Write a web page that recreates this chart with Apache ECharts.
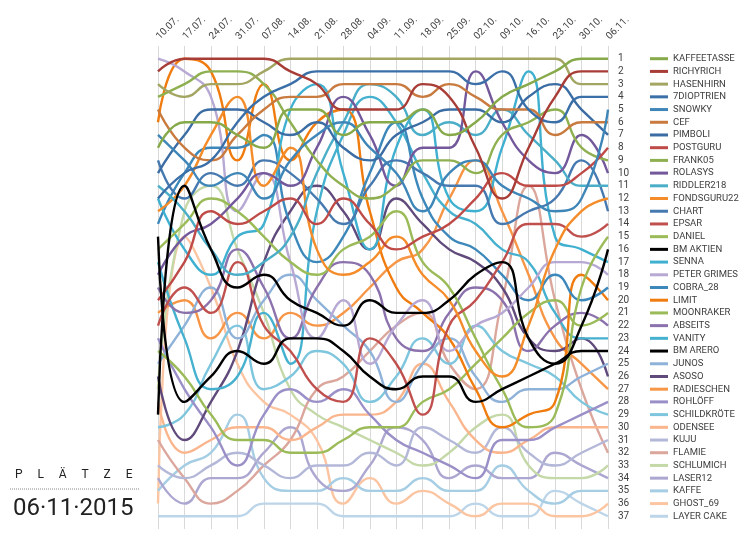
<!DOCTYPE html>
<html><head><meta charset="utf-8">
<script src="https://cdn.jsdelivr.net/npm/echarts@6/dist/echarts.min.js"></script>
<style>html,body{margin:0;padding:0;background:#fff}#c{width:750px;height:538px}</style>
</head><body><div id="c"></div>
<script>
const dates = ['10.07.','17.07.','24.07.','31.07.','07.08.','14.08.','21.08.','28.08.','04.09.','11.09.','18.09.','25.09.','02.10.','09.10.','16.10.','23.10.','30.10.','06.11.'];
const names = ['KAFFEETASSE','RICHYRICH','HASENHIRN','7DIOPTRIEN','SNOWKY','CEF','PIMBOLI','POSTGURU','FRANK05','ROLASYS','RIDDLER218','FONDSGURU22','CHART','EPSAR','DANIEL','BM AKTIEN','SENNA','PETER GRIMES','COBRA_28','LIMIT','MOONRAKER','ABSEITS','VANITY','BM ARERO','JUNOS','ASOSO','RADIESCHEN','ROHLÖFF','SCHILDKRÖTE','ODENSEE','KUJU','FLAMIE','SCHLUMICH','LASER12','KAFFE','GHOST_69','LAYER CAKE'];
const colors = ['#86a94a','#a83c36','#a3a562','#3a6fa8','#3f86b8','#c97a3f','#3b6ca3','#be4b48','#8fb050','#73589b','#4aaec8','#f58c2a','#4679b0','#c0504d','#9bbb59','#000000','#40b0d0','#b7a9d3','#3d88bb','#f07c0f','#9bbb59','#8c72ad','#46b1cf','#000000','#8fb2d8','#604a7b','#f79646','#9b8fc8','#7ec6de','#fab58d','#b4b8d8','#dba69c','#c4d8a8','#aca7d0','#a5cde3','#fcc5a2','#bdd5e8'];
const rankLabels = [1,2,3,4,5,6,7,8,9,10,11,12,13,14,15,16,17,18,19,20,21,22,23,24,25,26,27,28,29,30,31,32,33,34,35,36,37];

const kaffeetasse  = [8,6,6,7,8,5,5,7,6,6,5,7,6,4,3,2,1,1];
const richyrich    = [2,1,1,1,1,2,3,5,5,5,3,4,8,12,8,4,2,2];
const hasenhirn    = [3,4,3,3,2,1,1,1,1,1,1,1,1,1,1,1,3,3];
const dioptrien    = [12,10,9,6,4,3,2,2,2,2,2,2,3,2,5,6,4,4];
const snowky       = [7,9,11,10,12,9,7,6,8,10,13,10,9,11,12,13,12,5];
const cef          = [5,8,9,7,5,4,4,3,3,3,4,3,4,5,5,7,6,6];
const pimboli      = [10,7,5,5,6,7,6,8,9,7,6,5,5,6,4,3,5,7];
const postguru     = [20,17,13,14,13,12,14,12,14,16,15,14,12,10,11,11,10,8];
const frank05      = [4,3,2,2,3,6,9,11,12,11,9,9,10,7,6,5,8,9];
const rolasys      = [18,15,14,12,10,11,8,4,7,11,8,8,2,6,9,10,7,10];
const riddler218   = [11,13,16,18,17,15,10,6,3,4,7,6,7,5,7,9,11,11];
const fondsguru22  = [13,11,7,4,11,8,16,18,17,15,18,20,24,26,22,16,13,12];
const chart        = [9,12,10,11,9,10,12,14,11,9,10,11,11,14,13,12,9,13];
const epsar        = [22,19,21,17,22,24,27,28,23,25,29,22,20,17,14,14,15,14];
const daniel       = [16,14,12,13,15,17,18,16,15,13,17,19,23,27,30,29,19,15];
const bmAktien     = [29,11,16,19,18,20,21,22,20,21,21,20,18,17,23,25,22,16];
const senna        = [12,16,18,15,14,5,3,10,16,8,5,12,13,8,2,15,16,17];
const peterGrimes  = [1,2,4,13,10,17,23,20,25,22,20,24,22,21,19,17,17,18];
const cobra28      = [14,10,8,8,7,14,17,15,10,6,12,15,16,18,20,18,20,19];
const limit        = [6,1,2,9,3,9,6,5,13,19,21,23,27,30,29,28,18,20];
const moonraker    = [24,26,29,31,31,32,32,31,30,30,28,27,25,23,21,20,22,21];
const abseits      = [19,21,20,16,19,23,19,17,18,23,24,21,19,20,24,22,21,22];
const vanity       = [17,23,27,26,21,25,13,7,4,6,10,13,14,16,17,21,23,23];
const bmArero      = [15,28,26,24,25,23,23,24,26,27,26,26,28,27,26,25,24,24];
const junos        = [25,22,19,23,20,18,20,22,24,28,25,23,26,28,27,27,26,25];
const asoso        = [26,31,28,24,17,13,11,13,16,12,14,16,17,19,23,24,23,26];
const radieschen   = [21,20,23,21,23,21,22,21,19,17,16,12,9,13,18,23,25,27];
const rohloeff     = [23,27,30,33,29,27,28,27,29,31,32,33,34,31,31,30,29,28];
const schildkroete = [30,29,25,22,27,26,24,25,28,26,23,25,22,24,25,26,28,29];
const odensee      = [28,32,31,30,30,31,30,29,29,28,25,28,31,32,31,30,30,30];
const kuju         = [33,34,33,32,33,34,33,33,32,33,30,31,32,30,32,33,32,31];
const flamie       = [31,34,36,35,33,31,27,26,24,22,21,25,27,20,11,20,27,32];
const schlumich    = [27,13,11,16,21,27,29,30,31,32,33,32,30,29,33,34,34,33];
const laser12      = [34,36,34,34,32,30,34,35,33,30,31,34,33,34,34,32,33,34];
const kaffe        = [35,33,32,29,34,35,35,34,35,35,34,35,35,33,35,36,35,35];
const ghost69      = [36,15,19,25,28,29,31,36,34,36,35,36,37,36,36,37,37,36];
const layerCake    = [37,37,37,37,36,36,36,37,37,37,37,37,36,37,37,35,36,37];

const seriesData = [kaffeetasse,richyrich,hasenhirn,dioptrien,snowky,cef,pimboli,postguru,frank05,rolasys,riddler218,fondsguru22,chart,epsar,daniel,bmAktien,senna,peterGrimes,cobra28,limit,moonraker,abseits,vanity,bmArero,junos,asoso,radieschen,rohloeff,schildkroete,odensee,kuju,flamie,schlumich,laser12,kaffe,ghost69,layerCake];

const rich = { n: { fontSize: 9.5, color: '#404040', padding: [0,0,0,5], verticalAlign: 'middle', fontFamily: 'Roboto' } };
names.forEach((n, i) => { rich['c' + (i + 1)] = { width: 18, height: 3, backgroundColor: colors[i], verticalAlign: 'middle' }; });

const chartEl = echarts.init(document.getElementById('c'), null, { renderer: 'canvas' });
const series = seriesData.map((d, i) => ({
  name: names[i], type: 'line', data: d, smooth: 0.5, symbol: 'none',
  yAxisIndex: 0, z: 2 + (colors[i] === '#000000' ? 1 : 0),
  lineStyle: { width: 2.4, color: colors[i] }, itemStyle: { color: colors[i] }, emphasis: { disabled: true }
})).reverse();

chartEl.setOption({
  animation: false,
  backgroundColor: '#ffffff',
  textStyle: { fontFamily: 'Roboto' },
  grid: { left: 158, right: 142, top: 46, bottom: 9, containLabel: false },
  xAxis: {
    type: 'category', data: dates, boundaryGap: false, position: 'top',
    axisLine: { show: false }, axisTick: { show: false },
    axisLabel: { rotate: 45, fontSize: 10, color: '#404040', margin: 8, interval: 0 },
    splitLine: { show: true, lineStyle: { color: '#d9d9d9', width: 1 } }
  },
  yAxis: [
    { type: 'value', inverse: true, min: 0, max: 38, interval: 1, position: 'right',
      axisLine: { show: false }, axisTick: { show: false }, splitLine: { show: false },
      axisLabel: { margin: 10, fontSize: 10, color: '#404040', formatter: v => rankLabels.includes(v) ? String(v) : '' } },
    { type: 'value', inverse: true, min: 0, max: 38, interval: 1, position: 'right', offset: 42,
      axisLine: { show: false }, axisTick: { show: false }, splitLine: { show: false },
      axisLabel: { margin: 0, formatter: v => rankLabels.includes(v) ? '{c' + v + '|}{n|' + names[v - 1] + '}' : '', rich: rich } }
  ],
  series: series,
  graphic: [
    { type: 'text', left: 15, top: 469, style: { text: 'P     L     Ä     T     Z     E', fontSize: 12, fill: '#222', fontFamily: 'Roboto' } },
    { type: 'line', shape: { x1: 10, y1: 489, x2: 140, y2: 489 }, style: { stroke: '#8a8a8a', lineWidth: 1, lineDash: [1, 1] } },
    { type: 'text', left: 13, top: 497, style: { text: '06·11·2015', fontSize: 24, fill: '#222', fontFamily: 'Roboto' } }
  ]
});
</script></body></html>
